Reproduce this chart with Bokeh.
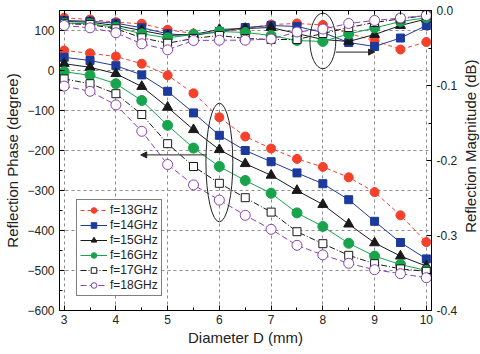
import math
from bokeh.plotting import figure
from bokeh.layouts import row
from bokeh.core.properties import value
from bokeh.models import (LinearAxis, Range1d, FixedTicker, PrintfTickFormatter,
                          Legend, LegendItem, Arrow, NormalHead)
from bokeh.embed import file_html
from bokeh.resources import INLINE

diameter = [3, 3.5, 4, 4.5, 5, 5.5, 6, 6.5, 7, 7.5, 8, 8.5, 9, 9.5, 10]

labels = ["f=13GHz", "f=14GHz", "f=15GHz", "f=16GHz", "f=17GHz", "f=18GHz"]

phase_13 = [50, 43, 35, 17, -12, -57, -117, -165, -195, -221, -241, -267, -304, -362, -429]
phase_14 = [33, 25, 12, -11, -52, -106, -162, -200, -228, -256, -283, -323, -377, -430, -471]
phase_15 = [17, 8, -8, -40, -92, -148, -198, -233, -262, -300, -335, -384, -431, -464, -489]
phase_16 = [-3, -12, -33, -75, -137, -194, -240, -275, -307, -356, -390, -432, -464, -485, -500]
phase_17 = [-21, -33, -58, -110, -183, -240, -282, -318, -354, -403, -433, -462, -483, -496, -502]
phase_18 = [-39, -52, -86, -152, -235, -286, -324, -362, -397, -437, -461, -482, -498, -508, -518]

mag_13 = [-0.0097, -0.0120, -0.0156, -0.0177, -0.0257, -0.0307, -0.0293, -0.0240, -0.0187, -0.0173, -0.0193, -0.0307, -0.0400, -0.0520, -0.0420]
mag_14 = [-0.0133, -0.0143, -0.0169, -0.0231, -0.0311, -0.0333, -0.0280, -0.0227, -0.0200, -0.0213, -0.0293, -0.0427, -0.0480, -0.0367, -0.0200]
mag_15 = [-0.0147, -0.0156, -0.0200, -0.0267, -0.0333, -0.0320, -0.0253, -0.0240, -0.0227, -0.0307, -0.0387, -0.0413, -0.0320, -0.0200, -0.0113]
mag_16 = [-0.0169, -0.0177, -0.0223, -0.0311, -0.0364, -0.0320, -0.0280, -0.0293, -0.0333, -0.0400, -0.0413, -0.0313, -0.0233, -0.0147, -0.0097]
mag_17 = [-0.0177, -0.0187, -0.0244, -0.0364, -0.0436, -0.0373, -0.0333, -0.0373, -0.0387, -0.0387, -0.0307, -0.0227, -0.0160, -0.0111, -0.0067]
mag_18 = [-0.0200, -0.0231, -0.0297, -0.0444, -0.0524, -0.0400, -0.0396, -0.0396, -0.0380, -0.0287, -0.0247, -0.0173, -0.0133, -0.0100, -0.0067]

x_ticks = [3, 4, 5, 6, 7, 8, 9, 10]
phase_ticks = [-600, -500, -400, -300, -200, -100, 0, 100]
mag_ticks = [-0.4, -0.3, -0.2, -0.1, 0.0]
right_title = "Reflection Magnitude (dB)"

phases = [phase_13, phase_14, phase_15, phase_16, phase_17, phase_18]
mags = [mag_13, mag_14, mag_15, mag_16, mag_17, mag_18]

styles = [
    dict(color="#f5402c", dash="4 3", marker="circle", size=9, fill="#f5402c"),
    dict(color="#1c3a9c", dash="solid", marker="square", size=8, fill="#1c3a9c"),
    dict(color="#1a1a1a", dash="solid", marker="triangle", size=10, fill="#1a1a1a"),
    dict(color="#17a44c", dash="solid", marker="circle", size=10, fill="#17a44c"),
    dict(color="#1a1a1a", dash="6 2 1 2", marker="square", size=8, fill="white"),
    dict(color="#8a3fb3", dash="6 3", marker="circle", size=10, fill="white"),
]

FONT = "Liberation Sans"

p = figure(width=460, height=354, output_backend="svg", toolbar_location=None,
           x_range=Range1d(2.91, 10.1), y_range=Range1d(-600, 150),
           min_border_left=59, min_border_right=29, min_border_top=10, min_border_bottom=44)
p.extra_y_ranges = {"mag": Range1d(-0.4, 0.0)}
p.background_fill_color = "white"
p.border_fill_color = "white"
p.outline_line_color = "black"
p.outline_line_width = 1

# grids
p.xgrid.ticker = FixedTicker(ticks=x_ticks)
p.ygrid.ticker = FixedTicker(ticks=phase_ticks[1:])
for g in (p.xgrid, p.ygrid):
    g.grid_line_color = "#8c8c8c"
    g.grid_line_dash = "3 3"
    g.grid_line_width = 1

def style_axis(ax):
    ax.axis_line_color = "black"
    ax.major_tick_in = 5
    ax.major_tick_out = 0
    ax.minor_tick_in = 3
    ax.minor_tick_out = 0
    ax.major_tick_line_color = "black"
    ax.minor_tick_line_color = "black"
    ax.major_label_text_font = FONT
    ax.major_label_text_font_size = "12px"
    ax.major_label_text_color = "#222222"
    ax.axis_label_text_font = FONT
    ax.axis_label_text_font_size = "15px"
    ax.axis_label_text_font_style = "normal"
    ax.axis_label_text_color = "#222222"

xa = p.xaxis[0]
xa.ticker = FixedTicker(ticks=x_ticks, minor_ticks=[t + 0.5 for t in x_ticks[:-1]])
xa.axis_label = "Diameter D (mm)"
style_axis(xa)
xa.major_label_standoff = 4
xa.axis_label_standoff = 2

ya = p.yaxis[0]
ya.ticker = FixedTicker(ticks=phase_ticks, minor_ticks=[t + 50 for t in phase_ticks])
ya.axis_label = "Reflection Phase (degree)"
style_axis(ya)
ya.major_label_standoff = 5
ya.axis_label_standoff = 3

ra = LinearAxis(y_range_name="mag")
ra.ticker = FixedTicker(ticks=mag_ticks, minor_ticks=[t - 0.05 for t in mag_ticks[1:]])
ra.formatter = PrintfTickFormatter(format="%.1f")
style_axis(ra)
ra.major_label_standoff = 5
p.add_layout(ra, "right")

# top axis: ticks only (no labels)
ta = LinearAxis()
ta.ticker = FixedTicker(ticks=[], minor_ticks=[3 + 0.5 * i for i in range(15)])
style_axis(ta)
ta.minor_tick_in = 4
p.add_layout(ta, "above")

items = []
for lab, ph, mg, st in zip(labels, phases, mags, styles):
    l1 = p.line(diameter, ph, line_color=st["color"], line_dash=st["dash"], line_width=1)
    s1 = p.scatter(diameter, ph, marker=st["marker"], size=st["size"],
                   line_color=st["color"], fill_color=st["fill"], line_width=1)
    p.line(diameter, mg, y_range_name="mag", line_color=st["color"],
           line_dash=st["dash"], line_width=1)
    p.scatter(diameter, mg, y_range_name="mag", marker=st["marker"], size=st["size"],
              line_color=st["color"], fill_color=st["fill"], line_width=1)
    items.append(LegendItem(label=lab, renderers=[l1, s1]))

# annotations: ellipses and arrows
p.ellipse(x=[6], y=[-230], width=[0.52], height=[297], fill_color=None,
          line_color="#222222", line_width=1)
p.ellipse(x=[8], y=[74], width=[0.5], height=[139], fill_color=None,
          line_color="#222222", line_width=1)
p.add_layout(Arrow(x_start=5.75, y_start=-211, x_end=4.48, y_end=-211,
                   line_color="#222222", line_width=1,
                   end=NormalHead(size=6, fill_color="#222222", line_color="#222222")))
p.add_layout(Arrow(x_start=8.25, y_start=46, x_end=9.0, y_end=46,
                   line_color="#222222", line_width=1,
                   end=NormalHead(size=6, fill_color="#222222", line_color="#222222")))

legend = Legend(items=items, location=(17, 14), label_text_font=FONT,
                label_text_font_size="12px", label_text_color="#222222",
                glyph_width=27, glyph_height=14, label_height=14,
                spacing=1, padding=3, margin=0, label_standoff=3,
                border_line_color="black", border_line_width=1,
                background_fill_color="white", background_fill_alpha=1)
p.add_layout(legend, "center")

# narrow strip holding the right-hand axis title (reads bottom to top)
q = figure(width=20, height=354, output_backend="svg", toolbar_location=None,
           x_range=Range1d(0, 1), y_range=Range1d(0, 354),
           x_axis_location=None, y_axis_location=None, min_border=0)
q.outline_line_color = None
q.grid.visible = False
q.background_fill_color = "white"
q.border_fill_color = "white"
q.text(x=[0.5], y=[194], text=[right_title], angle=math.pi / 2,
       text_align="center", text_baseline="middle",
       text_font=value(FONT), text_font_size="15px", text_color="#222222")

layout = row(p, q, spacing=0)
open("out.html", "w").write(file_html(layout, INLINE))
